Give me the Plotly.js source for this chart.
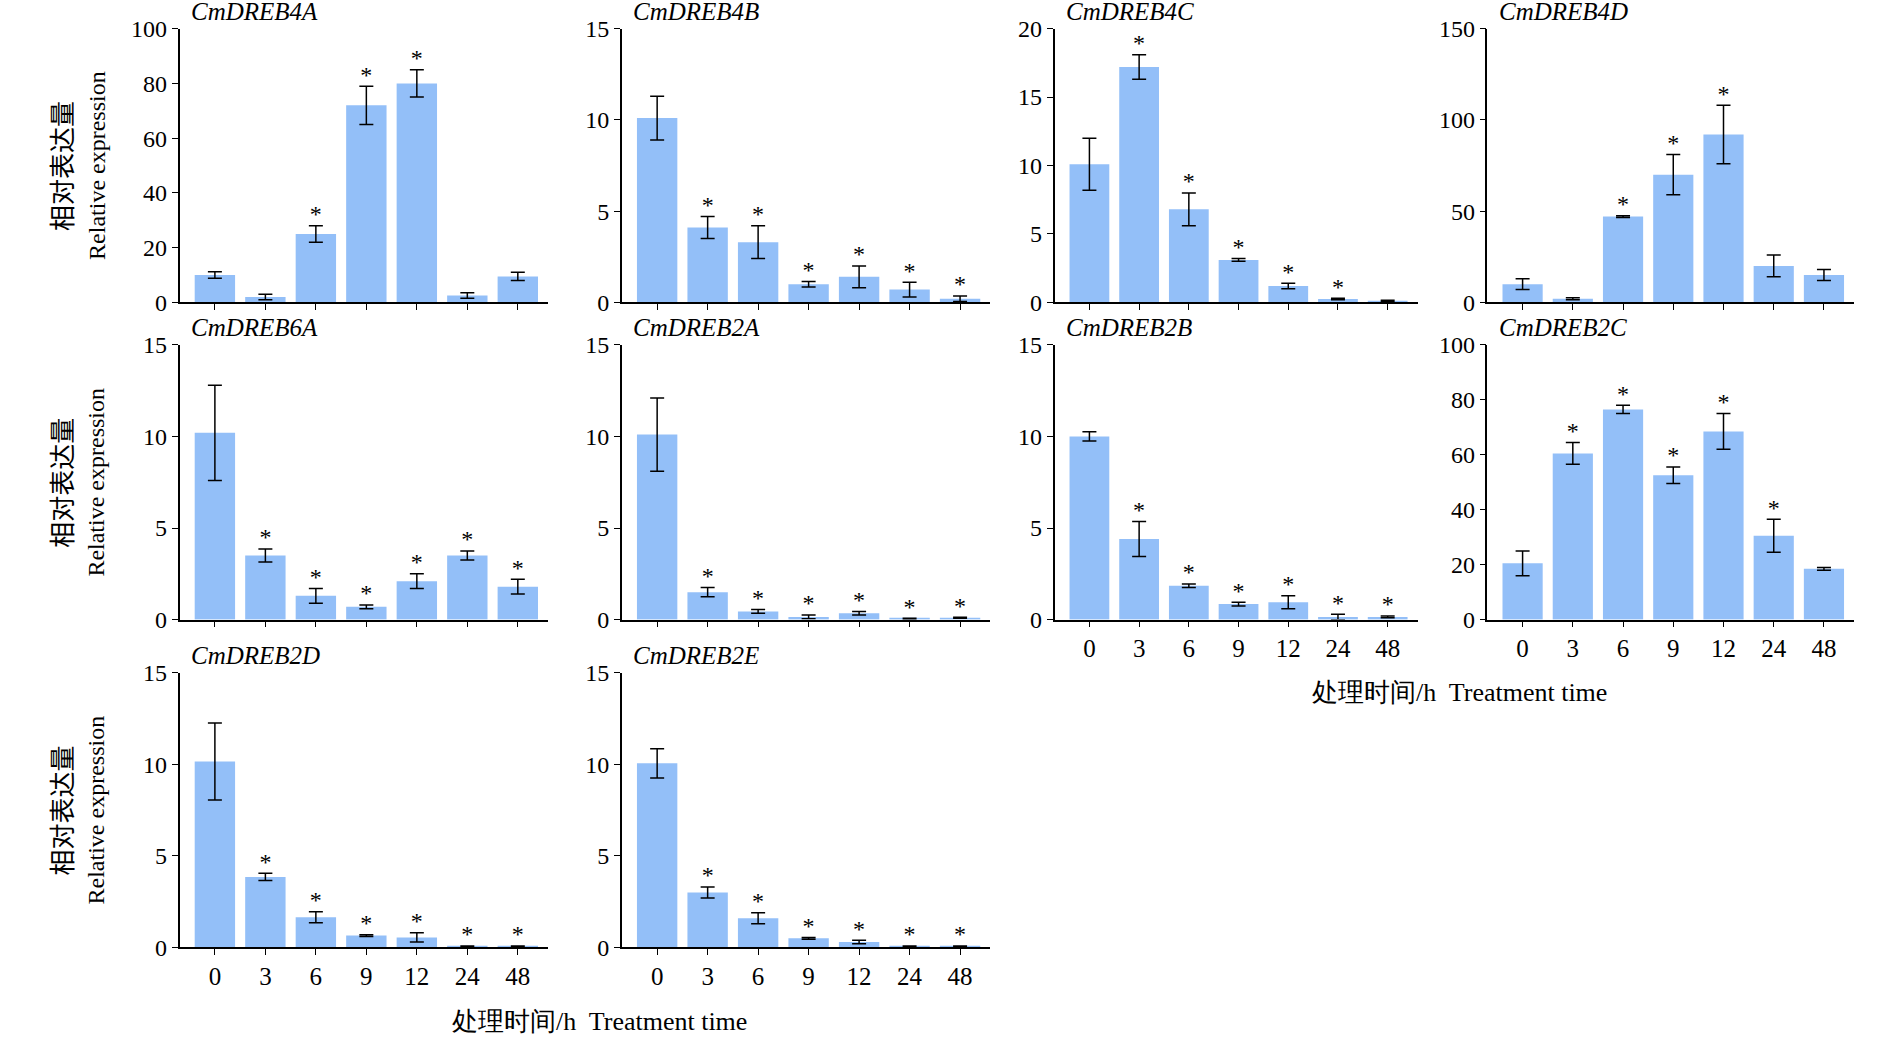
<!DOCTYPE html>
<html><head><meta charset="utf-8">
<script src="https://cdn.plot.ly/plotly-3.0.1.min.js"></script>
<style>body{margin:0;background:#fff}#plot{width:1890px;height:1061px}</style>
</head><body><div id="plot"></div>
<script>
// Treatment time categories (h)
const times = ['0', '3', '6', '9', '12', '24', '48'];
const genes = ['CmDREB4A','CmDREB4B','CmDREB4C','CmDREB4D','CmDREB6A','CmDREB2A','CmDREB2B','CmDREB2C','CmDREB2D','CmDREB2E'];
const means = [
  [10, 2, 25, 72, 80, 2.5, 9.5],
  [10.1, 4.1, 3.3, 1.0, 1.4, 0.7, 0.2],
  [10.1, 17.2, 6.8, 3.1, 1.2, 0.25, 0.1],
  [10, 2, 47, 70, 92, 20, 15],
  [10.2, 3.5, 1.3, 0.7, 2.1, 3.5, 1.8],
  [10.1, 1.5, 0.45, 0.15, 0.35, 0.05, 0.1],
  [10, 4.4, 1.85, 0.85, 0.95, 0.15, 0.15],
  [20.5, 60.5, 76.5, 52.5, 68.5, 30.5, 18.5],
  [10.15, 3.85, 1.65, 0.65, 0.55, 0.05, 0.05],
  [10.05, 3.0, 1.6, 0.5, 0.3, 0.05, 0.05]
];
const errs = [
  [1.2, 1, 3, 7, 5, 1, 1.5],
  [1.2, 0.6, 0.9, 0.15, 0.6, 0.4, 0.15],
  [1.9, 0.9, 1.2, 0.1, 0.2, 0.05, 0.05],
  [3, 0.5, 0.5, 11, 16, 6, 3],
  [2.6, 0.35, 0.4, 0.1, 0.4, 0.25, 0.4],
  [2, 0.25, 0.1, 0.1, 0.1, 0.03, 0.03],
  [0.25, 0.95, 0.1, 0.1, 0.35, 0.15, 0.05],
  [4.5, 4, 1.5, 3, 6.5, 6, 0.5],
  [2.1, 0.2, 0.3, 0.05, 0.25, 0.03, 0.03],
  [0.8, 0.3, 0.3, 0.05, 0.1, 0.03, 0.03]
];
const stars = [
  [0,0,1,1,1,0,0],
  [0,1,1,1,1,1,1],
  [0,1,1,1,1,1,0],
  [0,0,1,1,1,0,0],
  [0,1,1,1,1,1,1],
  [0,1,1,1,1,1,1],
  [0,1,1,1,1,1,1],
  [0,1,1,1,1,1,0],
  [0,1,1,1,1,1,1],
  [0,1,1,1,1,1,1]
];
const yMax = [100, 15, 20, 150, 15, 15, 15, 100, 15, 15];
const yStep = [20, 5, 5, 50, 5, 5, 5, 20, 5, 5];
const showX = [false,false,false,false,false,false,true,true,true,true];

const xDom = [[0.095,0.29],[0.329,0.524],[0.558,0.75],[0.787,0.981]];
const yDom = [[0.715,0.973],[0.416,0.675],[0.107,0.366]];
const font = 'Liberation Serif, Times New Roman, serif';

let data = [], annotations = [];
let layout = {
  paper_bgcolor: '#fff', plot_bgcolor: '#fff',
  margin: {l:0, r:0, t:0, b:0}, showlegend: false,
  font: {family: font, size: 24, color: '#000'}
};

genes.forEach((g, i) => {
  const r = Math.floor(i / 4), c = i % 4, n = i + 1;
  const xa = 'x' + (n === 1 ? '' : n), ya = 'y' + (n === 1 ? '' : n);
  data.push({
    type: 'bar', x: times, y: means[i], xaxis: xa, yaxis: ya,
    marker: {color: '#93bff8'}, width: 0.8,
    error_y: {type: 'data', array: errs[i], color: '#000', thickness: 1.5, width: 7}
  });
  const sx = [], sy = [];
  stars[i].forEach((s, k) => { if (s) { sx.push(times[k]); sy.push(means[i][k] + errs[i][k] + yMax[i] * 0.035); } });
  data.push({
    type: 'scatter', mode: 'text', x: sx, y: sy, text: sx.map(() => '*'),
    textposition: 'middle center', textfont: {size: 24, family: font},
    xaxis: xa, yaxis: ya, hoverinfo: 'skip'
  });
  layout['xaxis' + (n === 1 ? '' : n)] = {
    domain: xDom[c], anchor: ya, type: 'category', range: [-0.7, 6.6],
    showline: true, linecolor: '#000', linewidth: 1.5, ticks: 'outside', ticklen: 6,
    tickcolor: '#000', showticklabels: showX[i], showgrid: false, zeroline: false,
    tickfont: {size: 25}
  };
  layout['yaxis' + (n === 1 ? '' : n)] = {
    domain: yDom[r], anchor: xa, range: [0, yMax[i]], dtick: yStep[i],
    showline: true, linecolor: '#000', linewidth: 1.5, ticks: 'outside', ticklen: 6,
    tickcolor: '#000', showgrid: false, zeroline: false, tickfont: {size: 24}
  };
  annotations.push({
    text: '<i>' + g + '</i>', xref: 'paper', yref: 'paper',
    x: xDom[c][0] + 0.005, y: yDom[r][1] + 0.016, xanchor: 'left', yanchor: 'middle',
    showarrow: false, font: {size: 25}
  });
});

yDom.forEach(d => {
  const mid = (d[0] + d[1]) / 2;
  annotations.push({text: '相对表达量', xref: 'paper', yref: 'paper', x: 0.032, y: mid,
    xanchor: 'center', yanchor: 'middle',
    textangle: -90, showarrow: false, font: {size: 26, family: 'Noto Sans CJK SC'}});
  annotations.push({text: 'Relative expression', xref: 'paper', yref: 'paper', x: 0.051, y: mid,
    xanchor: 'center', yanchor: 'middle',
    textangle: -90, showarrow: false, font: {size: 24}});
});
annotations.push({text: '处理时间/h  Treatment time', xref: 'paper', yref: 'paper',
  x: 0.317, y: 0.037, xanchor: 'center', yanchor: 'middle', showarrow: false, font: {size: 26}});
annotations.push({text: '处理时间/h  Treatment time', xref: 'paper', yref: 'paper',
  x: 0.772, y: 0.347, xanchor: 'center', yanchor: 'middle', showarrow: false, font: {size: 26}});
layout.annotations = annotations;

Plotly.newPlot('plot', data, layout, {displayModeBar: false});
</script></body></html>
